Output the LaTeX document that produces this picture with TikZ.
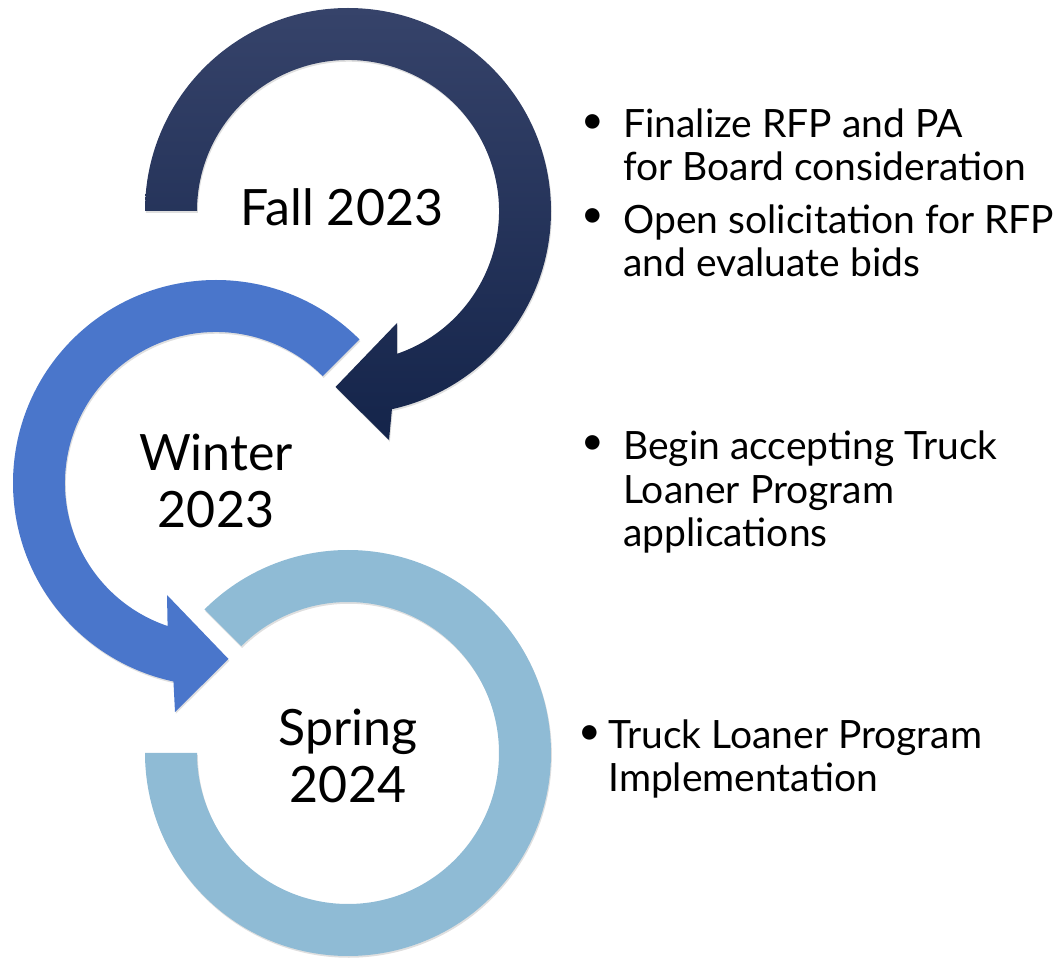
\documentclass[tikz,border=0pt]{standalone}
\usepackage{fontspec}
\setmainfont{Lato}
\usepackage{xcolor}
\usepackage{tikz}
\usetikzlibrary{shadows}

\definecolor{falltop}{RGB}{54,67,106}
\definecolor{fallbot}{RGB}{20,36,74}
\definecolor{winterblue}{RGB}{74,118,203}
\definecolor{springblue}{RGB}{143,187,213}

\begin{document}
\begin{tikzpicture}[x=0.02cm, y=0.02cm,
    ring/.style={drop shadow={opacity=0.25, shadow xshift=0.5pt, shadow yshift=-1pt}},
    season/.style={inner sep=0pt, align=center, font=\fontsize{28.5}{33}\selectfont},
    note/.style={inner sep=0pt, anchor=base west, align=left, font=\fontsize{22.2}{25}\selectfont},
    dot/.style={inner sep=0pt, font=\fontsize{22.2}{25}\selectfont}]
    \useasboundingbox (0,0) rectangle (1063,-959);

    % Spring ring
    \begin{scope}[shift={(348,-753)}]
        \fill[springblue, ring] (135:203) arc[start angle=135, end angle=-180, radius=203]
            -- (-180:151) arc[start angle=-180, end angle=135, radius=151] -- cycle;
    \end{scope}

    % Winter arrow
    \begin{scope}[shift={(216,-483)}]
        \fill[winterblue, ring] (45:203) arc[start angle=45, end angle=257.9, radius=203]
            -- (-41,-229) -- (12.5,-176) -- (-49,-112)
            -- (251.3:151) arc[start angle=251.3, end angle=45, radius=151] -- cycle;
    \end{scope}

    % Fall arrow
    \begin{scope}[shift={(348,-211)}]
        \shade[top color=falltop, bottom color=fallbot, ring] (180:203) arc[start angle=180, end angle=-77.5, radius=203]
            -- (41,-229) -- (-12.5,-176) -- (49,-112)
            -- (-71:151) arc[start angle=-71, end angle=180, radius=151] -- cycle;
    \end{scope}

    % Season labels (base = last line)
    \node[season, anchor=base] (fall) at (342,-226) {Fall 2023};
    \node[season, anchor=base] (winter) at (216,-528) {Winter\\2023};
    \node[season, anchor=base] (spring) at (348,-803) {Spring\\2024};

    % Notes
    \node[dot] (d1) at (593,-124) {\textbullet};
    \node[note] (n1) at (623,-181) {Finalize RFP and PA\\for Board consideration};
    \node[dot] (d2) at (593,-218) {\textbullet};
    \node[note] (n2) at (623,-277) {Open solicitation for RFP\\and evaluate bids};
    \node[dot] (d3) at (593,-445) {\textbullet};
    \node[note] (n3) at (623,-547) {Begin accepting Truck\\Loaner Program\\applications};
    \node[dot] (d4) at (590,-735) {\textbullet};
    \node[note] (n4) at (608,-792) {Truck Loaner Program\\Implementation};
\end{tikzpicture}
\end{document}
